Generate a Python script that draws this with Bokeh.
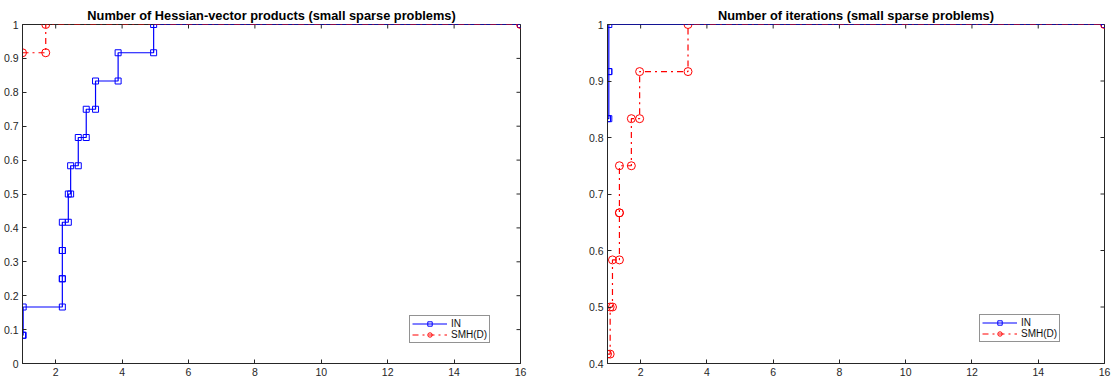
import math
from bokeh.plotting import figure
from bokeh.models import Range1d, FixedTicker
from bokeh.layouts import row
from bokeh.embed import file_html
from bokeh.resources import INLINE

# performance-profile ratios (12 problems)
hv_in = [1.0, 1.02, 2.2, 2.2, 2.2, 2.38, 2.45, 2.68, 2.92, 3.2, 3.88, 4.95]
hv_smh = [1.0, 1.0, 1.0, 1.0, 1.0, 1.0, 1.0, 1.0, 1.0, 1.0, 1.0, 1.7]
it_in = [1.0, 1.0, 1.0, 1.0, 1.0, 1.0, 1.0, 1.0, 1.0, 1.0, 1.04, 1.04]
it_smh = [1.0, 1.0, 1.0, 1.0, 1.0, 1.08, 1.15, 1.36, 1.36, 1.72, 1.97, 3.43]
x_max = 16
x_ticks = [2, 4, 6, 8, 10, 12, 14, 16]
y_ticks_left = [0, 0.1, 0.2, 0.3, 0.4, 0.5, 0.6, 0.7, 0.8, 0.9, 1]
y_ticks_right = [0.4, 0.5, 0.6, 0.7, 0.8, 0.9, 1]
titles = ["Number of Hessian-vector products (small sparse problems)",
          "Number of iterations (small sparse problems)"]
labels = ["IN", "SMH(D)"]

FONT = "Liberation Sans"
AX = "#262626"


def steps(ratios, xmax):
    n = len(ratios)
    k0 = sum(1 for r in ratios if r == ratios[0])
    xs = [ratios[0]]
    ys = [k0 / n]
    for i in range(k0, n):
        xs += [ratios[i], ratios[i]]
        ys += [i / n, (i + 1) / n]
    xs.append(xmax)
    ys.append(1.0)
    return xs, ys


def make(title, a, b, y0, yticks, fw, bl, br, legend_xy):
    p = figure(frame_width=fw, frame_height=339,
               x_range=Range1d(1, x_max), y_range=Range1d(y0, 1),
               output_backend="svg", toolbar_location=None,
               min_border_left=bl, min_border_right=br,
               min_border_top=24, min_border_bottom=16,
               background_fill_color="white", border_fill_color="white")
    p.title.text = title
    p.title.text_font = FONT
    p.title.text_font_size = "12.8px"
    p.title.text_font_style = "bold"
    p.title.text_color = "#000000"
    p.title.align = "center"
    p.title.standoff = 3
    p.grid.visible = False
    p.outline_line_color = AX
    p.outline_line_width = 1
    p.outline_line_alpha = 1

    for ax, ticks in ((p.xaxis[0], x_ticks), (p.yaxis[0], yticks)):
        ax.ticker = FixedTicker(ticks=ticks)
        ax.major_tick_in = 4
        ax.major_tick_out = 0
        ax.minor_tick_line_color = None
        ax.axis_line_color = AX
        ax.major_tick_line_color = AX
        ax.major_label_text_font = FONT
        ax.major_label_text_font_size = "10.5px"
        ax.major_label_text_color = AX
        ax.major_label_standoff = 4

    # inward ticks on the top and right edges (box on)
    p.scatter(x_ticks, [1] * len(x_ticks), marker="dash", size=8,
              angle=math.pi / 2, line_color=AX, line_width=1)
    p.scatter([x_max] * len(yticks), yticks, marker="dash", size=8,
              line_color=AX, line_width=1)

    xa, ya = steps(a, x_max)
    xb, yb = steps(b, x_max)
    p.line(xa, ya, line_color="#0000ff", line_width=1.2, legend_label=labels[0])
    p.scatter(xa, ya, marker="square", size=6, fill_color=None,
              line_color="#0000ff", line_width=1, legend_label=labels[0])
    p.line(xb, yb, line_color="#ff0000", line_width=1.2, line_dash="dashdot",
           legend_label=labels[1])
    p.scatter(xb, yb, marker="circle", size=8, fill_color=None,
              line_color="#ff0000", line_width=1, legend_label=labels[1])

    lg = p.legend[0]
    lg.location = legend_xy
    lg.label_text_font = FONT
    lg.label_text_font_size = "10px"
    lg.label_text_color = "#111111"
    lg.label_height = 11
    lg.label_standoff = 4
    lg.glyph_width = 35
    lg.glyph_height = 11
    lg.spacing = 0
    lg.padding = 2
    lg.margin = 0
    lg.border_line_color = AX
    lg.border_line_width = 1
    lg.background_fill_alpha = 1
    return p


p1 = make(titles[0], hv_in, hv_smh, 0, y_ticks_left, 498, 22, 60, (387, 20))
p2 = make(titles[1], it_in, it_smh, 0.4, y_ticks_right, 497, 27, 11, (372, 21))

layout = row(p1, p2)
open("out.html", "w").write(file_html(layout, INLINE))
